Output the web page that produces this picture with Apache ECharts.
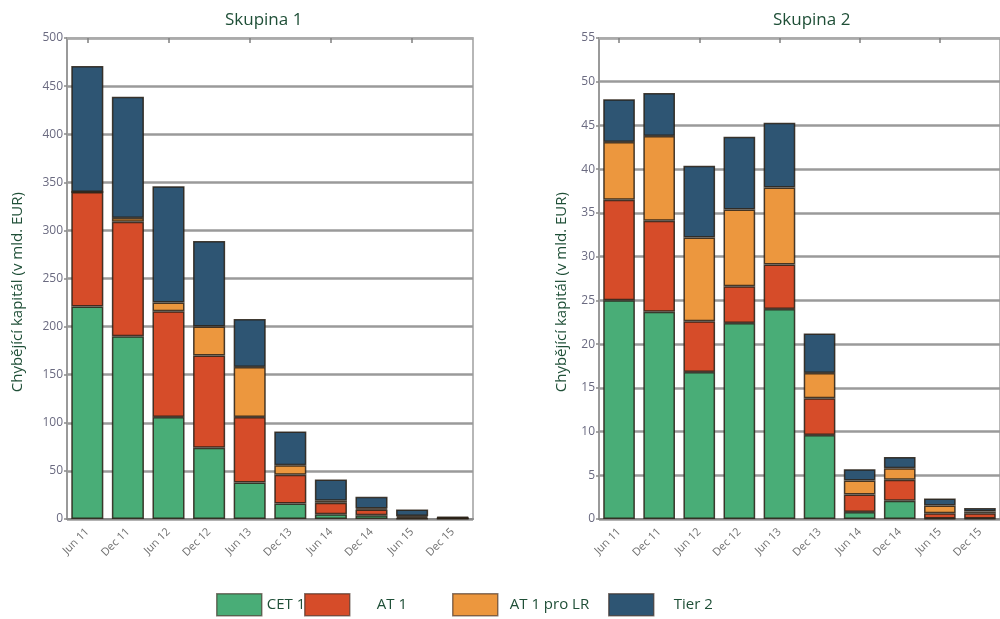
<!DOCTYPE html>
<html><head><meta charset="utf-8">
<script src="https://cdn.jsdelivr.net/npm/echarts@6/dist/echarts.min.js"></script>
<style>html,body{margin:0;padding:0;background:#fff}#c{width:1000px;height:619px}</style>
</head><body><div id="c"></div>
<script>
const categories = ['Jun 11','Dec 11','Jun 12','Dec 12','Jun 13','Dec 13','Jun 14','Dec 14','Jun 15','Dec 15'];
const seriesNames = ['CET 1','AT 1','AT 1 pro LR','Tier 2'];
const yAxisName = 'Chybějící kapitál (v mld. EUR)';
// Skupina 1
const g1_cet1 = [221, 190, 106, 74, 38, 16, 5, 4, 0.5, 0.3];
const g1_at1  = [119, 119, 110, 96, 68, 30, 12, 6, 1.5, 0.7];
const g1_lr   = [0, 4, 9, 30, 52, 10, 2, 1, 1, 0.3];
const g1_t2   = [131, 126, 121, 89, 50, 35, 22, 12, 7, 1];
// Skupina 2
const g2_cet1 = [25.0, 23.7, 16.8, 22.4, 24.0, 9.6, 0.8, 2.1, 0.05, 0.05];
const g2_at1  = [11.5, 10.4, 5.8, 4.2, 5.1, 4.2, 2.0, 2.4, 0.6, 0.6];
const g2_lr   = [6.6, 9.7, 9.6, 8.8, 8.8, 2.9, 1.6, 1.3, 0.9, 0.2];
const g2_t2   = [4.9, 4.9, 8.2, 8.3, 7.4, 4.5, 1.3, 1.3, 0.8, 0.4];

const colors = ['#49ad77', '#d64c29', '#ec973e', '#2e5573'];
const titleColor = '#1f4f37';
const font = 'Open Sans';

const chart = echarts.init(document.getElementById('c'));

function bar(name, data, idx, ci) {
  return {
    name: name, type: 'bar', stack: 's' + idx, data: data,
    xAxisIndex: idx, yAxisIndex: idx, barCategoryGap: '21%',
    itemStyle: { color: colors[ci], borderColor: 'rgba(40,30,20,0.85)', borderWidth: 1.5 },
    emphasis: { disabled: true }
  };
}

function yAxis(gi, max, interval, gap) {
  return {
    type: 'value', gridIndex: gi, min: 0, max: max, interval: interval,
    name: yAxisName + '\u00a0\u00a0\u00a0\u00a0\u00a0\u00a0\u00a0', nameLocation: 'middle', nameGap: gap,
    nameTextStyle: { color: titleColor, fontSize: 15, fontFamily: font },
    axisLine: { show: true, lineStyle: { color: '#9a9a9a', width: 2 } },
    axisTick: { show: true, length: 3, lineStyle: { color: '#8a8a8a', width: 1.5 } },
    axisLabel: { color: '#6a6a80', fontSize: 12, fontFamily: font, margin: 4 },
    splitLine: { show: true, lineStyle: { color: '#9a9a9a', width: 2.5 } }
  };
}
function xAxisBottom(gi) {
  return {
    type: 'category', gridIndex: gi, data: categories, position: 'bottom',
    axisLine: { show: true, lineStyle: { color: '#8a8a8a', width: 2 } },
    axisTick: { show: false },
    axisLabel: { rotate: 45, color: '#707070', fontSize: 11, fontFamily: font, margin: 11, interval: 0 }
  };
}
function xAxisTop(gi) {
  return {
    type: 'category', gridIndex: gi, data: categories, position: 'top',
    axisLine: { show: true, lineStyle: { color: '#b0b0b0', width: 1.5 } },
    axisTick: { show: true, inside: true, alignWithLabel: true, length: 5, lineStyle: { color: '#808080', width: 1.5 } },
    axisLabel: { show: false }
  };
}

function legendItem(name, left, pad) {
  return {
    data: [name], left: left, top: 593, padding: 0, itemWidth: 45, itemHeight: 22, icon: 'rect',
    selectedMode: false,
    itemStyle: { borderColor: 'rgba(60,40,30,0.6)', borderWidth: 1.5 },
    textStyle: { color: titleColor, fontSize: 15, fontFamily: font, padding: [0, 0, 0, pad] }
  };
}

chart.setOption({
  animation: false,
  title: [
    { text: 'Skupina 1', left: 225, top: 7, padding: [5, 0, 5, 0], textStyle: { color: titleColor, fontSize: 17, fontWeight: 'normal', fontFamily: font } },
    { text: 'Skupina 2', left: 773, top: 7, padding: [5, 0, 5, 0], textStyle: { color: titleColor, fontSize: 17, fontWeight: 'normal', fontFamily: font } }
  ],
  legend: [
    legendItem('CET 1', 216, 0),
    legendItem('AT 1', 304, 22),
    legendItem('AT 1 pro LR', 452, 7),
    legendItem('Tier 2', 608, 15)
  ],
  grid: [
    { left: 67, right: 527, top: 38, bottom: 100, show: true, borderColor: '#a0a0a0', borderWidth: 1.5 },
    { left: 599, right: -4, top: 38, bottom: 100, show: true, borderColor: '#a0a0a0', borderWidth: 1.5 }
  ],
  xAxis: [xAxisBottom(0), xAxisBottom(1), xAxisTop(0), xAxisTop(1)],
  yAxis: [yAxis(0, 500, 50, 42), yAxis(1, 55, 5, 30)],
  series: [
    bar(seriesNames[0], g1_cet1, 0, 0),
    bar(seriesNames[1], g1_at1, 0, 1),
    bar(seriesNames[2], g1_lr, 0, 2),
    bar(seriesNames[3], g1_t2, 0, 3),
    bar(seriesNames[0], g2_cet1, 1, 0),
    bar(seriesNames[1], g2_at1, 1, 1),
    bar(seriesNames[2], g2_lr, 1, 2),
    bar(seriesNames[3], g2_t2, 1, 3)
  ]
});
</script></body></html>
